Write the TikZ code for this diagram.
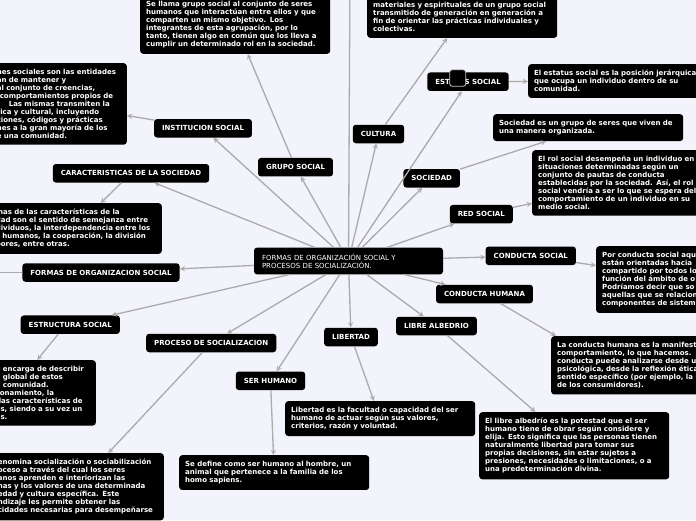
\documentclass[tikz,border=0pt]{standalone}
\usepackage{fontspec}
\setmainfont{DejaVu Sans}
\usetikzlibrary{arrows,positioning}
\definecolor{map_back}{HTML}{F2F3FB}
\definecolor{link_gray}{HTML}{ABABAB}
\newcommand{\mapfont}{\fontsize{7}{8}\selectfont}
\tikzset{rootnode/.style={rectangle, rounded corners=3pt, fill=black, text=white, font=\mapfont, text width=173pt, align=left, inner xsep=8pt, minimum height=26.7pt}}
\tikzset{topicnode/.style={rectangle, rounded corners=3pt, fill=black, text=white, font=\mapfont\bfseries, inner xsep=8pt, inner ysep=0pt, minimum height=18.5pt}}
\tikzset{descnode/.style={rectangle, rounded corners=3pt, fill=black, text=white, font=\mapfont\bfseries, text width=178pt, align=left, inner xsep=6pt, inner ysep=6pt}}
\tikzset{iconbox/.style={rectangle, rounded corners=2.5pt, fill=black, draw=gray!45, line width=0.8pt, minimum width=16pt, minimum height=16.5pt, inner sep=0pt}}
\tikzset{arrow/.style={line width=1.3pt, draw=link_gray, ->, >=stealth}}

\begin{document}
\begin{tikzpicture}[x=1pt, y=-1pt]
  \fill[map_back] (0,0) rectangle (696,520);
  \useasboundingbox (0,0) rectangle (696,520);

  \node[rootnode] (root) at (348.5,261) {FORMAS DE ORGANIZACIÓN SOCIAL Y\\PROCESOS DE SOCIALIZACIÓN.};

  % topics round the root
  \node[topicnode] (topic-institucion) at (203,128.3) {INSTITUCION SOCIAL};
  \node[topicnode] (topic-caracteristicas) at (131,173.3) {CARACTERISTICAS DE LA SOCIEDAD};
  \node[topicnode] (topic-formas) at (101,272.5) {FORMAS DE ORGANIZACION SOCIAL};
  \node[topicnode] (topic-estructura) at (70.3,324.7) {ESTRUCTURA SOCIAL};
  \node[topicnode] (topic-proceso) at (211.2,343) {PROCESO DE SOCIALIZACION};
  \node[topicnode] (topic-serhumano) at (270.5,380.8) {SER HUMANO};
  \node[topicnode] (topic-libertad) at (351,337) {LIBERTAD};
  \node[topicnode] (topic-libre) at (436.5,326) {LIBRE ALBEDRIO};
  \node[topicnode] (topic-chumana) at (484.5,294) {CONDUCTA HUMANA};
  \node[topicnode] (topic-csocial) at (530.8,255.8) {CONDUCTA SOCIAL};
  \node[topicnode] (topic-red) at (481.3,214.2) {RED SOCIAL};
  \node[topicnode] (topic-sociedad) at (431.7,178.3) {SOCIEDAD};
  \node[topicnode] (topic-estatus) at (468,81.7) {ESTATUS SOCIAL};
  \node[topicnode] (topic-cultura) at (378.5,134) {CULTURA};
  \node[topicnode] (topic-grupo) at (295.5,167.2) {GRUPO SOCIAL};
  \node[iconbox] (estatus-icon) at (457.7,78) {};

  \coordinate (top-off) at (350,-30);
  \coordinate (left-off) at (-30,272.5);

  % descriptions
  \node[descnode, anchor=south west] (desc-grupo) at (140,54) {Se llama grupo social al conjunto de seres\\humanos que interactúan entre ellos y que\\comparten un mismo objetivo. Los\\integrantes de esta agrupación, por lo\\tanto, tienen algo en común que los lleva a\\cumplir un determinado rol en la sociedad.};
  \node[descnode, anchor=south west] (desc-cultura) at (367,38) {materiales y espirituales de un grupo social\\transmitido de generación en generación a\\fin de orientar las prácticas individuales y\\colectivas.};
  \node[descnode, anchor=north east, text width=122pt, inner xsep=8pt] (desc-institucion) at (127,63) {nes sociales son las entidades\\an de mantener y\\al conjunto de creencias,\\\hspace*{3pt}comportamientos propios de\\\hspace*{12pt}Las mismas transmiten la\\rica y cultural, incluyendo\\ciones, códigos y prácticas\\nes a la gran mayoría de los\\e una comunidad.};
  \node[descnode, anchor=north east, text width=158pt, inner xsep=8pt] (desc-caracteristicas) at (162,203) {mas de las características de la\\dad son el sentido de semejanza entre\\dividuos, la interdependencia entre los\\s humanos, la cooperación, la división\\bores, entre otras.};
  \node[descnode, anchor=north east, text width=92pt, inner xsep=8pt] (desc-estructura) at (96,360) {e encarga de describir\\a global de estos\\a comunidad.\\zonamiento, la\\\hspace*{3pt}las características de\\es, siendo a su vez un\\as.};
  \node[descnode, anchor=north east, text width=158pt, inner xsep=8pt] (desc-proceso) at (164,453) {enomina socialización o sociabilización\\oceso a través del cual los seres\\anos aprenden e interiorizan las\\nas y los valores de una determinada\\edad y cultura específica. Este\\ndizaje les permite obtener las\\cidades necesarias para desempeñarse};
  \node[descnode, anchor=north west] (desc-serhumano) at (179,455) {Se define como ser humano al hombre, un\\animal que pertenece a la familia de los\\homo sapiens.};
  \node[descnode, anchor=north west] (desc-libertad) at (285,401) {Libertad es la facultad o capacidad del ser\\humano de actuar según sus valores,\\criterios, razón y voluntad.};
  \node[descnode, anchor=north west] (desc-libre) at (479,412) {El libre albedrío es la potestad que el ser\\humano tiene de obrar según considere y\\elija. Esto significa que las personas tienen\\naturalmente libertad para tomar sus\\propias decisiones, sin estar sujetos a\\presiones, necesidades o limitaciones, o a\\una predeterminación divina.};
  \node[descnode, anchor=north west] (desc-chumana) at (551,336) {La conducta humana es la manifest\\comportamiento, lo que hacemos.\\conducta puede analizarse desde u\\psicológica, desde la reflexión ética\\sentido específico (por ejemplo, la\\de los consumidores).};
  \node[descnode, anchor=north west] (desc-csocial) at (596,246) {Por conducta social aqu\\están orientadas hacia\\compartido por todos lo\\función del ámbito de o\\Podríamos decir que so\\aquellas que se relacion\\componentes de sistem};
  \node[descnode, anchor=north west] (desc-rol) at (532,150) {El rol social desempeña un individuo en\\situaciones determinadas según un\\conjunto de pautas de conducta\\establecidas por la sociedad. Así, el rol\\social vendría a ser lo que se espera del\\comportamiento de un individuo en su\\medio social.};
  \node[descnode, anchor=north west] (desc-sociedad) at (493,114) {Sociedad es un grupo de seres que viven de\\una manera organizada.};
  \node[descnode, anchor=north west] (desc-estatus) at (528,64) {El estatus social es la posición jerárquica\\que ocupa un individuo dentro de su\\comunidad.};

  % root to topics
  \draw[arrow] (root) -- (top-off);
  \draw[arrow] (root) -- (topic-institucion);
  \draw[arrow] (root) -- (topic-caracteristicas);
  \draw[arrow] (root) -- (topic-formas);
  \draw[arrow] (root) -- (topic-estructura);
  \draw[arrow] (root) -- (topic-proceso);
  \draw[arrow] (root) -- (topic-serhumano);
  \draw[arrow] (root) -- (topic-libertad);
  \draw[arrow] (root) -- (topic-libre);
  \draw[arrow] (root) -- (topic-chumana);
  \draw[arrow] (root) -- (topic-csocial);
  \draw[arrow] (root) -- (topic-red);
  \draw[arrow] (root) -- (topic-sociedad);
  \draw[arrow] (root) -- (topic-estatus);
  \draw[arrow] (root) -- (topic-cultura);
  \draw[arrow] (root) -- (topic-grupo);

  % topics to descriptions
  \draw[arrow] (topic-grupo) -- (desc-grupo);
  \draw[arrow] (topic-cultura) -- (desc-cultura);
  \draw[arrow] (topic-institucion) -- (desc-institucion);
  \draw[arrow] (topic-caracteristicas) -- (desc-caracteristicas);
  \draw[arrow] (topic-formas) -- (left-off);
  \draw[arrow] (topic-estructura.218) -- (desc-estructura.98);
  \draw[arrow] (topic-proceso) -- (desc-proceso);
  \draw[arrow] (topic-serhumano) -- (desc-serhumano);
  \draw[arrow] (topic-libertad) -- (desc-libertad);
  \draw[arrow] (topic-libre) -- (desc-libre);
  \draw[arrow] (topic-chumana) -- (desc-chumana.162);
  \draw[arrow] (topic-csocial) -- (desc-csocial);
  \draw[arrow] (topic-red) -- (desc-rol);
  \draw[arrow] (topic-sociedad) -- (desc-sociedad);
  \draw[arrow] (topic-estatus) -- (desc-estatus);
\end{tikzpicture}
\end{document}
